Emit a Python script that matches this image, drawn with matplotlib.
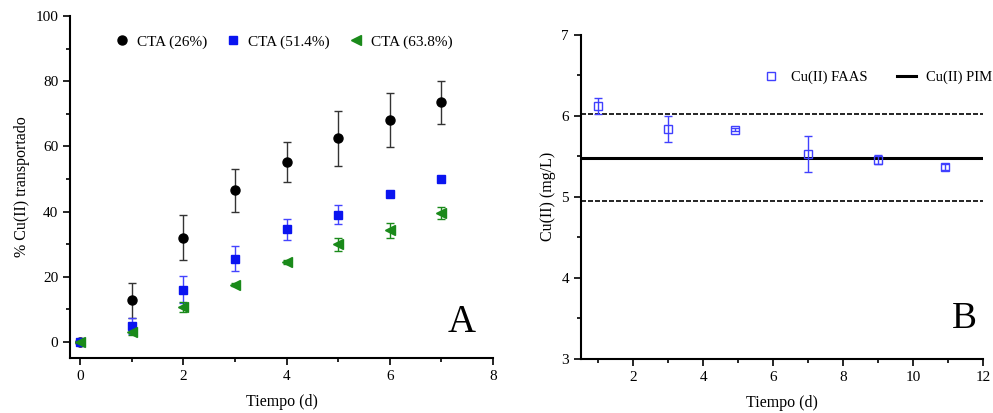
import numpy as np
import matplotlib
matplotlib.use('Agg')
import matplotlib.pyplot as plt
from matplotlib.ticker import MultipleLocator

plt.rcParams['font.family'] = ['Liberation Serif', 'DejaVu Serif']
plt.rcParams['font.size'] = 11

# panel A data
dias = [0, 1, 2, 3, 4, 5, 6, 7]
cta26 = [0, 12.8, 32.0, 46.5, 55.2, 62.5, 68.1, 73.5]
cta26_err = [0, 5.4, 6.8, 6.6, 6.1, 8.4, 8.3, 6.5]
cta51 = [0, 4.8, 16.0, 25.5, 34.5, 39.0, 45.3, 50.0]
cta51_err = [0, 2.5, 4.2, 3.9, 3.3, 2.9, 0.5, 1.0]
cta63 = [0, 3.0, 10.6, 17.5, 24.5, 30.0, 34.2, 39.5]
cta63_err = [0, 0.8, 1.5, 0.5, 0.7, 2.0, 2.4, 1.8]

# panel B data
tiempo_b = [1, 3, 4.9, 7, 9, 10.9]
faas = [6.12, 5.84, 5.83, 5.53, 5.46, 5.37]
faas_err = [0.10, 0.16, 0.02, 0.22, 0.05, 0.04]
pim = 5.48
pim_lims = [6.02, 4.95]

fig = plt.figure(figsize=(9.93, 4.13), dpi=100)

def estilo(ax):
    for s in ['top', 'right']:
        ax.spines[s].set_visible(False)
    for s in ['left', 'bottom']:
        ax.spines[s].set_linewidth(1.5)
    ax.tick_params(which='major', direction='out', length=5, width=1.2, labelsize=11)
    ax.tick_params(which='minor', direction='out', length=3, width=1.2)

ax1 = fig.add_axes([0.0705, 0.133, 0.426, 0.828])
e1 = ax1.errorbar(dias, cta26, yerr=cta26_err, fmt='o', color='black', ecolor='#333333',
                  markersize=6.5, capsize=3, elinewidth=1)
e2 = ax1.errorbar(dias, cta51, yerr=cta51_err, fmt='s', color='#0a14f0', ecolor='#4444ff',
                  markersize=6, capsize=3, elinewidth=1)
e3 = ax1.errorbar(dias, cta63, yerr=cta63_err, fmt='<', color='#1a8a1a', ecolor='#1a8a1a',
                  markersize=6.5, capsize=3, elinewidth=1)
ax1.set_xlim(-0.2, 8)
ax1.set_ylim(-5, 100)
ax1.xaxis.set_major_locator(MultipleLocator(2))
ax1.xaxis.set_minor_locator(MultipleLocator(1))
ax1.yaxis.set_major_locator(MultipleLocator(20))
ax1.yaxis.set_minor_locator(MultipleLocator(10))
estilo(ax1)
ax1.set_xlabel('Tiempo (d)', fontsize=11.5, labelpad=8)
ax1.set_ylabel('% Cu(II) transportado', fontsize=11.5)
ax1.legend([e1[0], e2[0], e3[0]], ['CTA (26%)', 'CTA (51.4%)', 'CTA (63.8%)'],
           loc='upper center', bbox_to_anchor=(0.5, 0.985), ncol=3, frameon=False,
           handletextpad=0.2, columnspacing=1.0, fontsize=11, handlelength=1.5)
ax1.text(0.96, 0.05, 'A', transform=ax1.transAxes, fontsize=28, ha='right', va='bottom')

ax2 = fig.add_axes([0.585, 0.131, 0.405, 0.785])
l_pim, = ax2.plot([0.5, 12], [pim, pim], color='black', linewidth=2.2)
for v in pim_lims:
    ax2.axhline(v, color='black', linewidth=1.2, linestyle=(0, (3, 1.2)))
e4 = ax2.errorbar(tiempo_b, faas, yerr=faas_err, fmt='s', mfc='none', mec='#4040ff',
                  ecolor='#4040ff', markersize=6, capsize=3, elinewidth=1, mew=1)
ax2.set_xlim(0.5, 12)
ax2.set_ylim(3, 7)
ax2.xaxis.set_major_locator(MultipleLocator(2))
ax2.xaxis.set_minor_locator(MultipleLocator(1))
ax2.yaxis.set_major_locator(MultipleLocator(1))
ax2.yaxis.set_minor_locator(MultipleLocator(0.5))
estilo(ax2)
ax2.set_xlabel('Tiempo (d)', fontsize=11.5, labelpad=8)
ax2.set_ylabel('Cu(II) (mg/L)', fontsize=11.5)
ax2.legend([e4[0], l_pim], ['Cu(II) FAAS', 'Cu(II) PIM'], loc='upper right',
           bbox_to_anchor=(1.055, 0.93), ncol=2, frameon=False, handletextpad=0.7,
           columnspacing=2.0, fontsize=10.5, handlelength=1.3)
ax2.text(0.985, 0.07, 'B', transform=ax2.transAxes, fontsize=27, ha='right', va='bottom')

fig.savefig('out.png', dpi=100)
